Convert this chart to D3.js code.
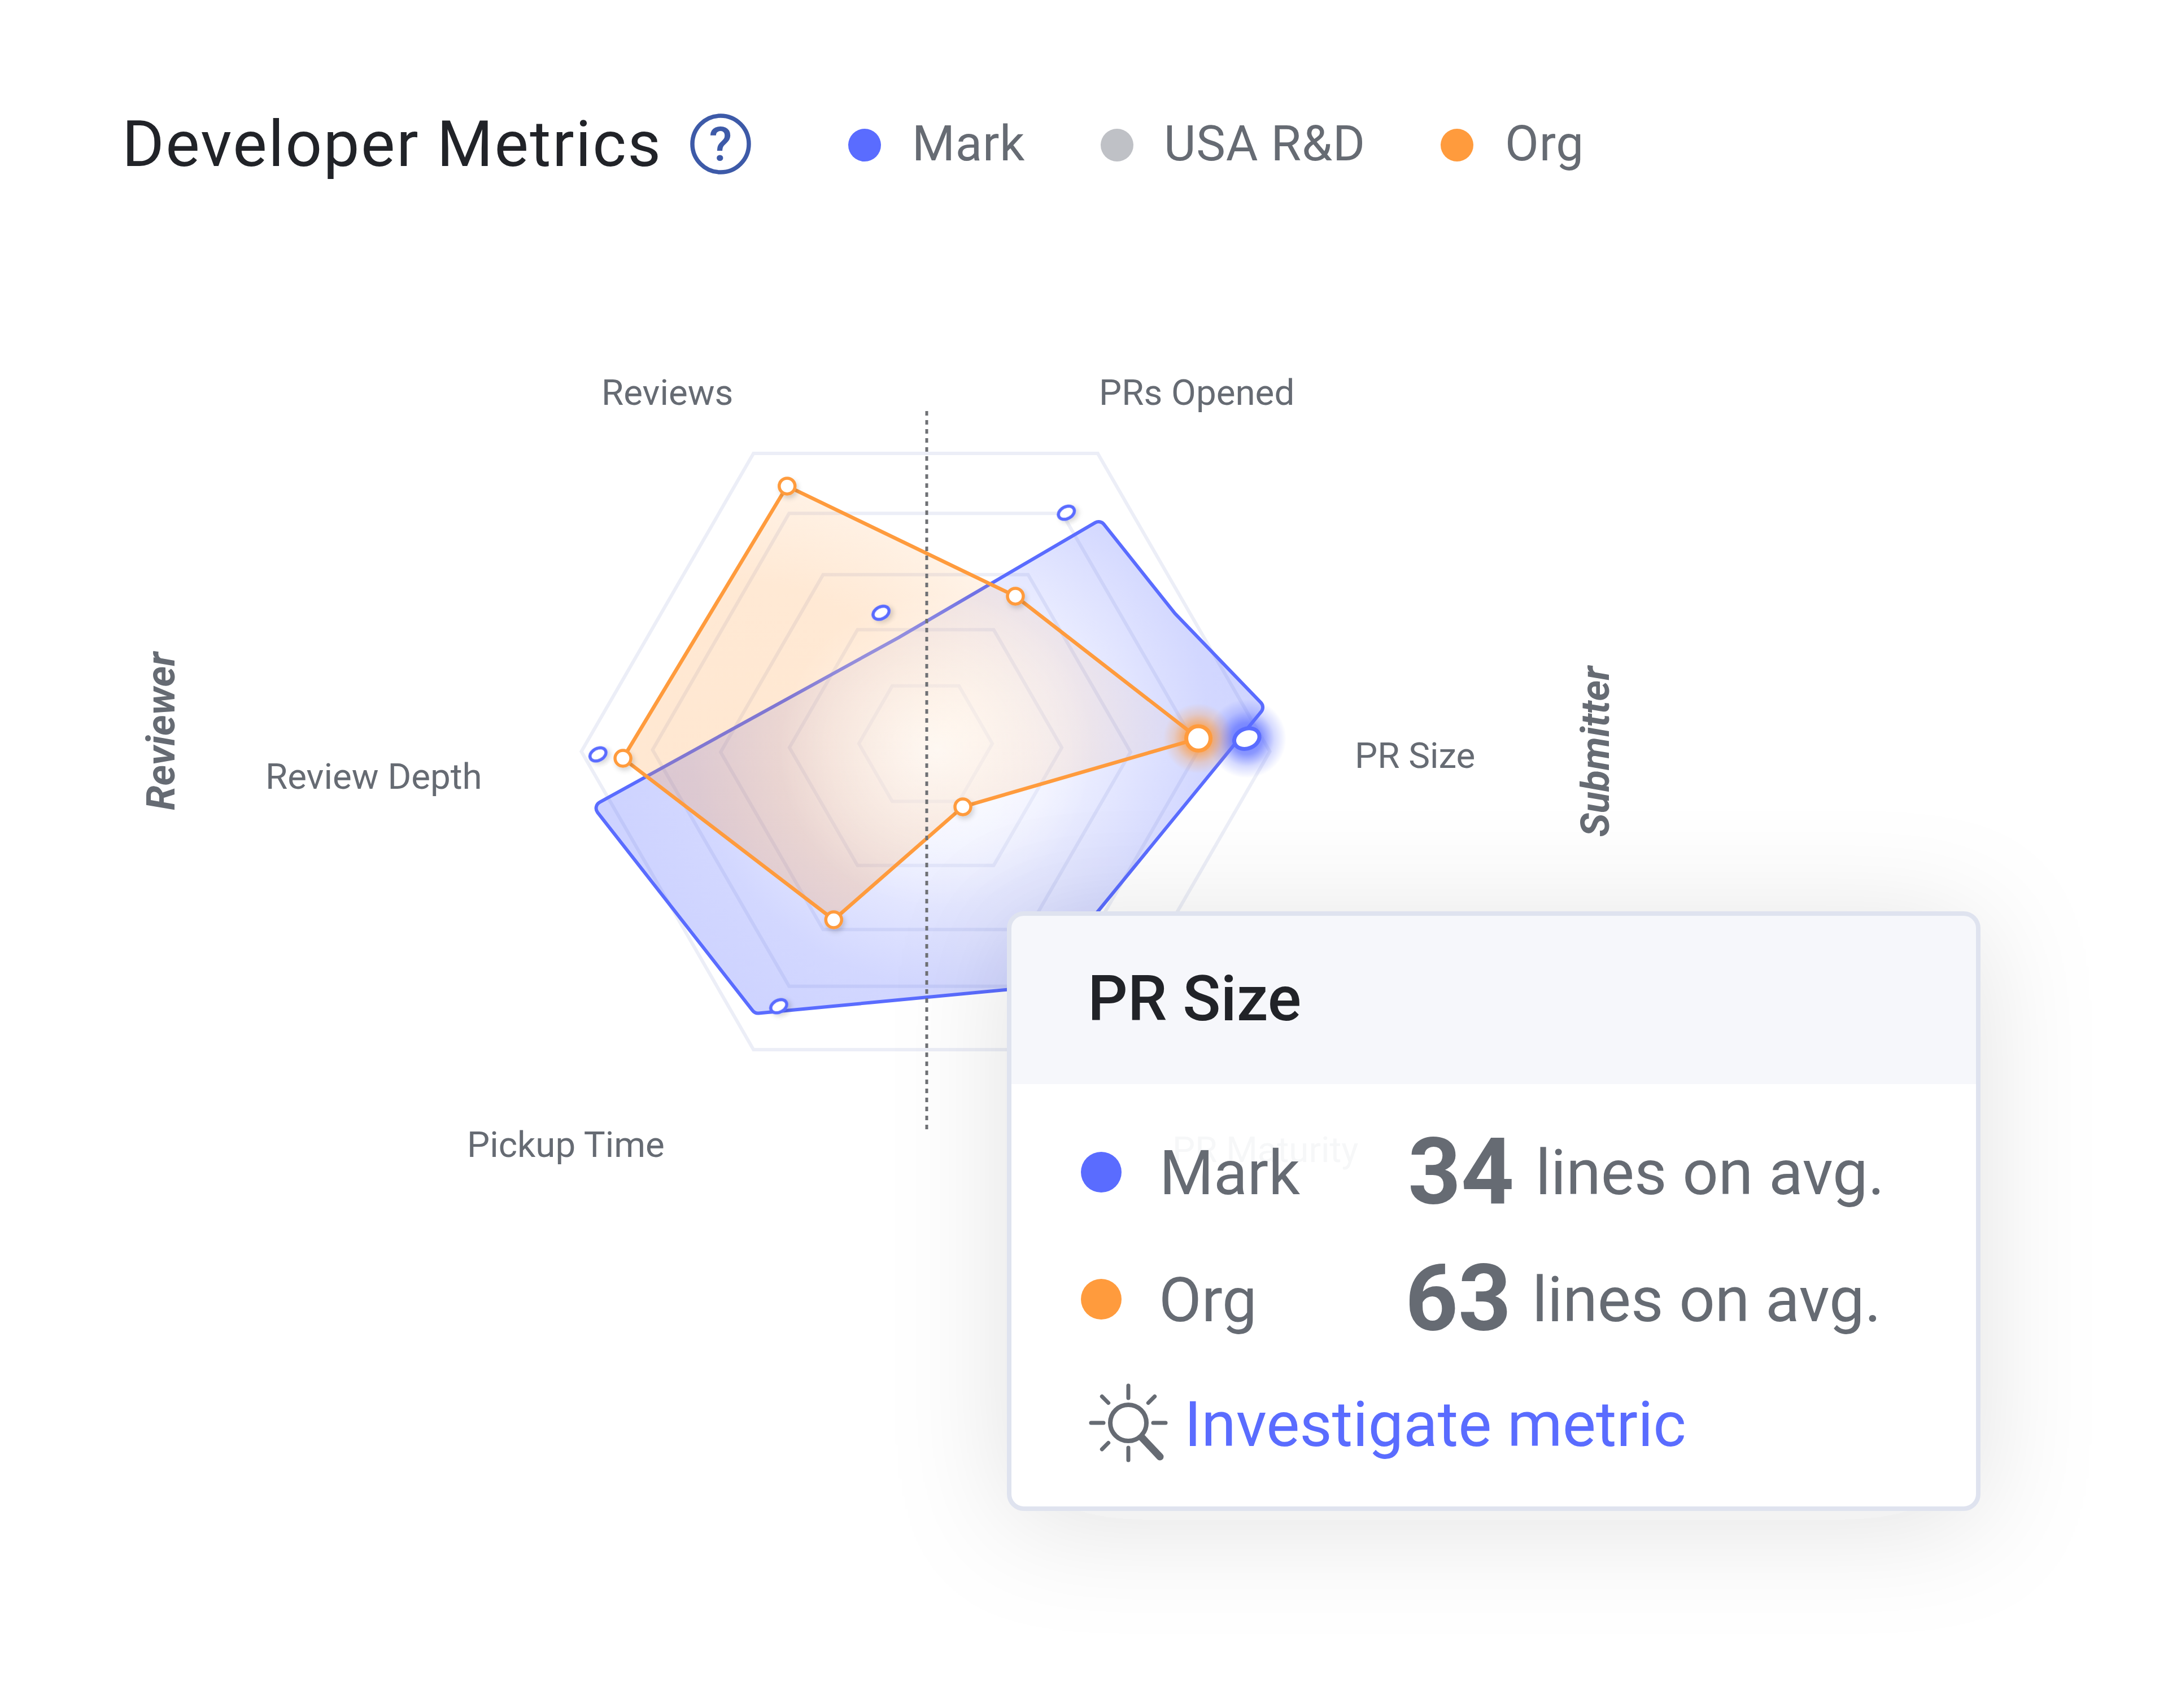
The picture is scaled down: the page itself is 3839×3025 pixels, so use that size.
<!DOCTYPE html>
<html><head><meta charset="utf-8">
<script src="https://cdn.jsdelivr.net/npm/d3@7/dist/d3.min.js"></script>
<style>html,body{margin:0;padding:0;background:#fff}svg{display:block}text{font-family:Roboto,sans-serif}</style>
</head><body><div id="chart"></div>
<script>
// ---------- data ----------
const metricLabels = ["Reviews","PRs Opened","PR Size","PR Maturity","Pickup Time","Review Depth"];
const ringTicks = [19.3,39.4,59.3,79,99.6];
const hexAngles = [30,90,150,210,270,330];
const orgAngles = [332.3,30.3,87.6,146.8,208.4,268.4];
const orgValues = [86.2,51.5,79.0,19.7,55.9,87.6];
const markAngles = [342,30.7,88,150,209.8,269.2];
const markValues = [41.7,79.8,93,80,85.5,94.8];
const markShapeAngles = [37.2,61.2,82.8,155,212.9,260.4,347];
const markShapeValues = [83.6,82.2,99,75.7,90.9,97.7,33.5];
const legendNames = ["Mark","USA R&D","Org"];
const tooltipTitle = "PR Size";
const tooltipNames = ["Mark","Org"];
const tooltipValues = [34,63];
const tooltipUnit = "lines on avg.";

// ---------- layout ----------
const W=3839,H=3025,cx=1639,cy=1328,R=612;
const BLUE="#5a6cff",ORANGE="#ff9b3d",GREY="#666b73",LG="#bfc1c6";
const ringShift=[-11,-4,4,0,3];
const rScale=d3.scaleLinear().domain([0,100]).range([0,R]);
const aScale=d3.scaleLinear().domain([0,360]).range([0,2*Math.PI]);
const radial=d3.lineRadial().angle(d=>aScale(d.a)).radius(d=>rScale(d.v)).curve(d3.curveLinearClosed);
const pt=(a,v)=>[rScale(v)*Math.sin(aScale(a)),-rScale(v)*Math.cos(aScale(a))];
function roundedPath(points,r){
  const p=d3.path(),n=points.length,a=points[n-1],b=points[0];
  p.moveTo((a[0]+b[0])/2,(a[1]+b[1])/2);
  points.forEach((q,i)=>{const nx=points[(i+1)%n];p.arcTo(q[0],q[1],nx[0],nx[1],r);});
  p.closePath();return p.toString();
}
const svg=d3.select("#chart").append("svg").attr("width",W).attr("height",H).attr("viewBox",`0 0 ${W} ${H}`);
const defs=svg.append("defs");

function radGrad(id,cxv,cyv,r,stops){
  const g=defs.append("radialGradient").attr("id",id).attr("gradientUnits","userSpaceOnUse")
    .attr("cx",cxv).attr("cy",cyv).attr("r",r);
  stops.forEach(s=>g.append("stop").attr("offset",s[0]).attr("stop-color",s[1]).attr("stop-opacity",s[2]));
}
radGrad("markFill",40,-40,R,[[0,BLUE,0.0],[0.35,BLUE,0.1],[0.75,BLUE,0.27],[1,BLUE,0.3]]);
radGrad("orgFill",-350,100,800,[[0,ORANGE,0.24],[0.5,ORANGE,0.22],[0.75,ORANGE,0.12],[1,ORANGE,0.05]]);
radGrad("centerGlow",20,0,280,[[0,"#ffffff",0.7],[0.5,"#ffffff",0.35],[1,"#ffffff",0]]);
const glowAt=(id,c)=>{const g=defs.append("radialGradient").attr("id",id);
  [[0,0.9],[0.4,0.7],[0.7,0.25],[1,0]].forEach(s=>g.append("stop").attr("offset",s[0]).attr("stop-color",c).attr("stop-opacity",s[1]));};
glowAt("blueGlow",BLUE);glowAt("orgGlow",ORANGE);
const f=defs.append("filter").attr("id","tipShadow").attr("x","-40%").attr("y","-50%").attr("width","180%").attr("height","200%");
f.append("feDropShadow").attr("dx",0).attr("dy",20).attr("stdDeviation",105).attr("flood-color","#2a2a30").attr("flood-opacity",0.12);
const ds=defs.append("filter").attr("id","dotShadow").attr("x","-60%").attr("y","-60%").attr("width","220%").attr("height","220%");
ds.append("feDropShadow").attr("dx",3).attr("dy",5).attr("stdDeviation",4).attr("flood-color","#000").attr("flood-opacity",0.16);

// ---------- header ----------
const label=(s,x,y,size,fill,opt={})=>svg.append("text").attr("x",x).attr("y",y).attr("font-size",size).attr("fill",fill)
  .attr("font-weight",opt.w||400).attr("font-style",opt.i||null).attr("letter-spacing",opt.ls||null).text(s);
label("Developer Metrics",216,294,114,"#212328",{ls:2.4});
svg.append("circle").attr("cx",1276).attr("cy",255).attr("r",50).attr("fill","none").attr("stroke","#3d5aa8").attr("stroke-width",7.5);
label("?",1276,285,84,"#3d5aa8",{w:500}).attr("text-anchor","middle");
const legendX=[1531,1978,2580],legendTextX=[1615,2061,2665],legendCol=[BLUE,LG,ORANGE];
svg.append("g").selectAll("circle").data(legendNames).join("circle")
  .attr("cx",(d,i)=>legendX[i]).attr("cy",257).attr("r",29).attr("fill",(d,i)=>legendCol[i]);
svg.append("g").selectAll("text").data(legendNames).join("text")
  .attr("x",(d,i)=>legendTextX[i]).attr("y",284).attr("font-size",87).attr("letter-spacing",0.8).attr("fill",GREY).text(d=>d);

// ---------- axis labels ----------
const labelX=[1065,1946,2399,null,827,470],labelY=[717,717,1360,null,2049,1397];
svg.append("g").selectAll("text").data(metricLabels.filter((d,i)=>labelX[i]!==null)).join("text")
  .attr("x",d=>labelX[metricLabels.indexOf(d)]).attr("y",d=>labelY[metricLabels.indexOf(d)])
  .attr("font-size",63.7).attr("fill",GREY).text(d=>d);
svg.append("text").attr("transform","translate(284,1295) rotate(-90)").attr("text-anchor","middle").attr("dy","0.35em")
  .attr("font-size",70).attr("font-weight",700).attr("font-style","italic").attr("fill",GREY).text("Reviewer");
svg.append("text").attr("transform","translate(2824,1331) rotate(-90)").attr("text-anchor","middle").attr("dy","0.35em")
  .attr("font-size",70).attr("font-weight",700).attr("font-style","italic").attr("fill",GREY).text("Submitter");

// ---------- radar ----------
const g=svg.append("g").attr("transform",`translate(${cx},${cy})`);
g.append("g").selectAll("path").data(ringTicks).join("path")
  .attr("transform",(t,i)=>`translate(0,${ringShift[i]})`)
  .attr("d",t=>radial(hexAngles.map(a=>({a,v:t})))).attr("fill","none").attr("stroke","#eceef7").attr("stroke-width",6);

g.append("path").attr("d",roundedPath(markShapeAngles.map((a,i)=>pt(a,markShapeValues[i])),12))
  .attr("fill","url(#markFill)").attr("stroke",BLUE).attr("stroke-width",6).attr("stroke-linejoin","round");
g.append("path").attr("d",radial(orgAngles.map((a,i)=>({a,v:orgValues[i]}))))
  .attr("fill","url(#orgFill)").attr("stroke","none");
g.append("circle").attr("cx",20).attr("cy",0).attr("r",280).attr("fill","url(#centerGlow)");
g.append("path").attr("d",radial(orgAngles.map((a,i)=>({a,v:orgValues[i]}))))
  .attr("fill","none").attr("stroke",ORANGE).attr("stroke-width",6.5).attr("stroke-linejoin","round");
g.append("line").attr("x1",2).attr("x2",2).attr("y1",728-cy).attr("y2",2002-cy)
  .attr("stroke","#6f7175").attr("stroke-width",5).attr("stroke-dasharray","8 8");

const active=metricLabels.indexOf(tooltipTitle);
const mp=pt(markAngles[active],markValues[active]),op=pt(orgAngles[active],orgValues[active]);
g.append("circle").attr("cx",mp[0]).attr("cy",mp[1]).attr("r",70).attr("fill","url(#blueGlow)");
g.append("circle").attr("cx",op[0]).attr("cy",op[1]).attr("r",62).attr("fill","url(#orgGlow)");

g.append("g").selectAll("ellipse").data(markAngles).join("ellipse")
  .each(function(a,i){const p=pt(a,markValues[i]);const big=i===active;
    d3.select(this).attr("transform",`translate(${p[0]},${p[1]}) rotate(${big?-22:-28})`)
      .attr("rx",big?23:15).attr("ry",big?17.5:10.5).attr("fill","#fff").attr("stroke",BLUE).attr("stroke-width",big?7:5.5)
      .attr("filter",big?null:"url(#dotShadow)");});
g.append("g").selectAll("circle").data(orgAngles).join("circle")
  .each(function(a,i){const p=pt(a,orgValues[i]);const big=i===active;
    d3.select(this).attr("cx",p[0]).attr("cy",p[1]).attr("r",big?21.5:14).attr("fill","#fff")
      .attr("stroke",ORANGE).attr("stroke-width",big?7:5.5).attr("filter",big?null:"url(#dotShadow)");});

// ---------- tooltip ----------
const tipL=1787,tipR=3503,tipT=1618,tipB=2672,headB=1920,rad=26;
const t=svg.append("g");
t.append("rect").attr("x",tipL).attr("y",tipT).attr("width",tipR-tipL).attr("height",tipB-tipT).attr("rx",rad)
  .attr("fill","#fff").attr("filter","url(#tipShadow)");
t.append("path").attr("d",`M${tipL},${headB}V${tipT+rad}Q${tipL},${tipT} ${tipL+rad},${tipT}H${tipR-rad}Q${tipR},${tipT} ${tipR},${tipT+rad}V${headB}Z`).attr("fill","#f6f7fb");
t.append("rect").attr("x",tipL).attr("y",tipT).attr("width",tipR-tipL).attr("height",tipB-tipT).attr("rx",rad)
  .attr("fill","none").attr("stroke","#dfe3ef").attr("stroke-width",8);
label("PR Maturity",2076,2058,63.7,"#f6f7f8");
label(tooltipTitle,1926,1807,111,"#212328",{w:500});
const rowY=[2076,2301],textY=[2115,2340],numX=[2493,2488],numY=[2131,2355],unitX=[2719,2713],nameX=[2053,2052],rowC=[BLUE,ORANGE];
tooltipNames.forEach((n,i)=>{
  t.append("circle").attr("cx",1950).attr("cy",rowY[i]).attr("r",36).attr("fill",rowC[i]);
  label(n,nameX[i],textY[i],110,GREY);
  label(String(tooltipValues[i]),numX[i],numY[i],164,GREY,{w:700});
  label(tooltipUnit,unitX[i],textY[i],111.5,GREY);
});
label("Investigate metric",2097,2561,111.5,BLUE);
// icon
const ic=t.append("g").attr("transform","translate(1998,2520)").attr("stroke",GREY).attr("fill","none").attr("stroke-linecap","round");
ic.append("circle").attr("r",32).attr("stroke-width",8);
ic.append("line").attr("x1",24).attr("y1",26).attr("x2",56).attr("y2",60).attr("stroke-width",13);
d3.range(0,360,45).filter(a=>a!==135).forEach(a=>{
  const s=Math.sin(a*Math.PI/180),c=-Math.cos(a*Math.PI/180);
  const r0=a%90===0?44:50,r1=66;
  ic.append("line").attr("x1",s*r0).attr("y1",c*r0).attr("x2",s*r1).attr("y2",c*r1).attr("stroke-width",7);
});
</script></body></html>
